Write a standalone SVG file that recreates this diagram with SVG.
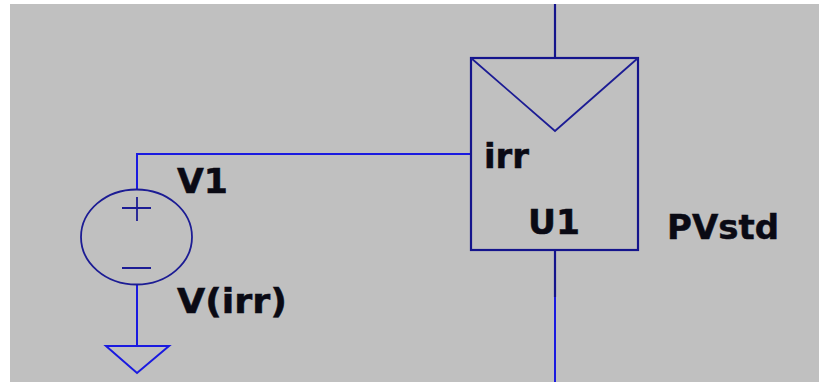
<svg xmlns="http://www.w3.org/2000/svg" width="819" height="383" viewBox="0 0 819 383">
<style>
.wire{fill:none;stroke:#1a1ae0;stroke-width:2}
.sym{fill:none;stroke:#1c1c94;stroke-width:1.8}
.dark{fill:none;stroke:#14148c;stroke-width:2.200}
.lbl{font-family:"DejaVu Sans",sans-serif;font-weight:700;fill:#0a0a14;stroke:#0a0a14;stroke-width:.5;font-size:33px}
</style>
<rect width="819" height="383" fill="#ffffff"/>
<rect x="10" y="4" width="809" height="378" fill="#c0c0c0"/>
<g id="connectors">
<path class="wire" d="M137 190V154H471"/>
<path class="wire" d="M137 284V346"/>
<path class="dark" d="M555 4V58"/>
<path class="wire" d="M555 297V382"/>
<path class="dark" d="M555 250V297"/>
</g>
<g id="V1">
<ellipse class="sym" cx="136.500" cy="237" rx="55.500" ry="47.500"/>
<path class="sym" d="M122 208H151M137 197V221M122 268H151"/>
<text class="lbl" x="177" y="193" textLength="51" lengthAdjust="spacingAndGlyphs">V1</text>
<text class="lbl" x="177" y="313" textLength="110" lengthAdjust="spacingAndGlyphs">V(irr)</text>
</g>
<g id="ground">
<path class="wire" stroke-width="1.500" d="M106 346H169L137 373Z"/>
</g>
<g id="U1">
<rect class="dark" x="471" y="58" width="167" height="192"/>
<path class="sym" d="M471 58L555 131L638 58"/>
<text class="lbl" x="484" y="168" textLength="45" lengthAdjust="spacingAndGlyphs">irr</text>
<text class="lbl" x="528" y="234" textLength="52" lengthAdjust="spacingAndGlyphs">U1</text>
<text class="lbl" x="667" y="239" textLength="112" lengthAdjust="spacingAndGlyphs">PVstd</text>
</g>
</svg>
